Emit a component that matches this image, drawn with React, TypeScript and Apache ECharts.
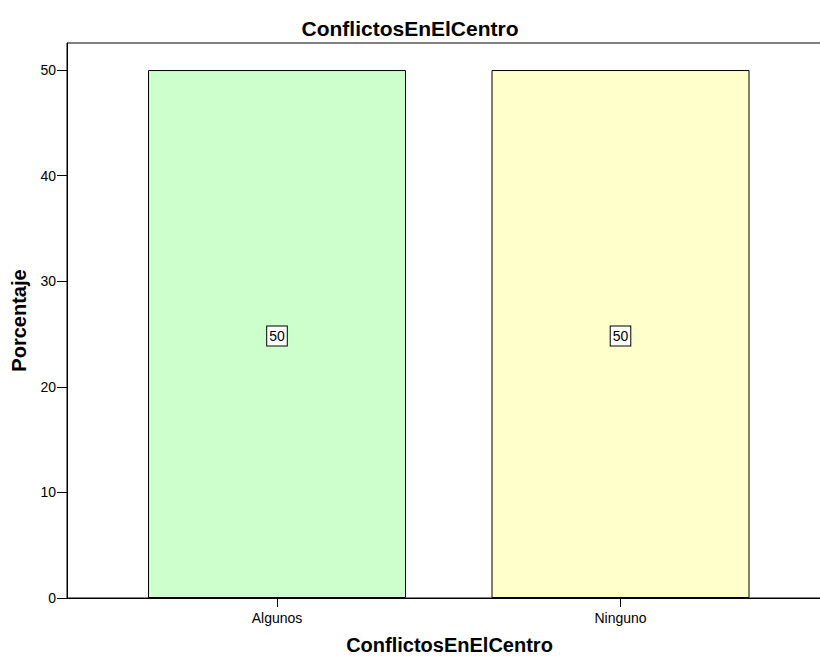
import React, { useEffect, useRef } from "react";
import * as echarts from "echarts";

const categories = ["Algunos", "Ninguno"];
const percentages = [50, 50];
const barColors = ["#ccffcc", "#ffffcc"];
const yTicks = [0, 10, 20, 30, 40, 50];
const chartTitle = "ConflictosEnElCentro";
const yName = "Porcentaje";
const xName = "ConflictosEnElCentro";

export default function App() {
  const ref = useRef<HTMLDivElement>(null);
  useEffect(() => {
    document.body.style.margin = "0";
    const chart = echarts.init(ref.current!, null, { renderer: "svg" });
    const font = "'Liberation Sans', Arial, sans-serif";
    const yMax = 52.56;
    chart.setOption({
      animation: false,
      backgroundColor: "#ffffff",
      textStyle: { fontFamily: font },
      title: {
        text: chartTitle,
        left: "center",
        top: 13,
        textStyle: { fontFamily: font, fontSize: 21, fontWeight: "bold", color: "#000" },
      },
      grid: [
        {
          left: 67, top: 43, right: -12, bottom: 59,
          show: true, borderColor: "#000", borderWidth: 1, backgroundColor: "transparent",
          containLabel: false, outerBoundsMode: "none",
        },
        { left: 105.25, top: 43, width: 687, bottom: 59, containLabel: false, outerBoundsMode: "none" },
      ],
      xAxis: [
        {
          gridIndex: 0,
          type: "value",
          min: 0,
          max: 1,
          name: xName,
          nameLocation: "middle",
          nameGap: 37,
          nameTextStyle: { fontFamily: font, fontSize: 20, fontWeight: "bold", color: "#000" },
          axisLine: { show: true, lineStyle: { color: "#000", width: 1 } },
          axisTick: { show: false },
          axisLabel: { show: false },
          splitLine: { show: false },
        },
        {
          gridIndex: 1,
          type: "category",
          data: categories,
          boundaryGap: true,
          axisLine: { show: false },
          axisTick: { show: true, alignWithLabel: true, length: 9, lineStyle: { color: "#000" } },
          axisLabel: { fontFamily: font, fontSize: 14, color: "#000", margin: 13 },
          splitLine: { show: false },
        },
      ],
      yAxis: [
        {
          gridIndex: 0,
          type: "value",
          min: 0,
          max: yMax,
          name: yName,
          nameLocation: "middle",
          nameGap: 38,
          nameTextStyle: { fontFamily: font, fontSize: 20, fontWeight: "bold", color: "#000" },
          axisLine: { show: true, lineStyle: { color: "#000", width: 1 } },
          axisTick: { show: true, length: 10, customValues: yTicks, lineStyle: { color: "#000" } },
          axisLabel: { fontFamily: font, fontSize: 14, color: "#000", margin: 11, customValues: yTicks },
          splitLine: { show: false },
        },
        {
          gridIndex: 1,
          type: "value",
          min: 0,
          max: yMax,
          show: false,
        },
      ],
      series: [
        {
          type: "bar",
          xAxisIndex: 1,
          yAxisIndex: 1,
          barWidth: 258,
          data: percentages.map((v, i) => ({
            value: v,
            itemStyle: { color: barColors[i], borderColor: "#000", borderWidth: 1 },
          })),
          label: {
            show: true,
            position: "inside",
            offset: [0, 2],
            fontFamily: font,
            fontSize: 14,
            color: "#000",
            backgroundColor: "#fff",
            borderColor: "#000",
            borderWidth: 1,
            padding: [3, 2, 2, 2],
          },
        },
      ],
    });
    return () => chart.dispose();
  }, []);
  return <div ref={ref} style={{ width: 820, height: 657 }} />;
}
